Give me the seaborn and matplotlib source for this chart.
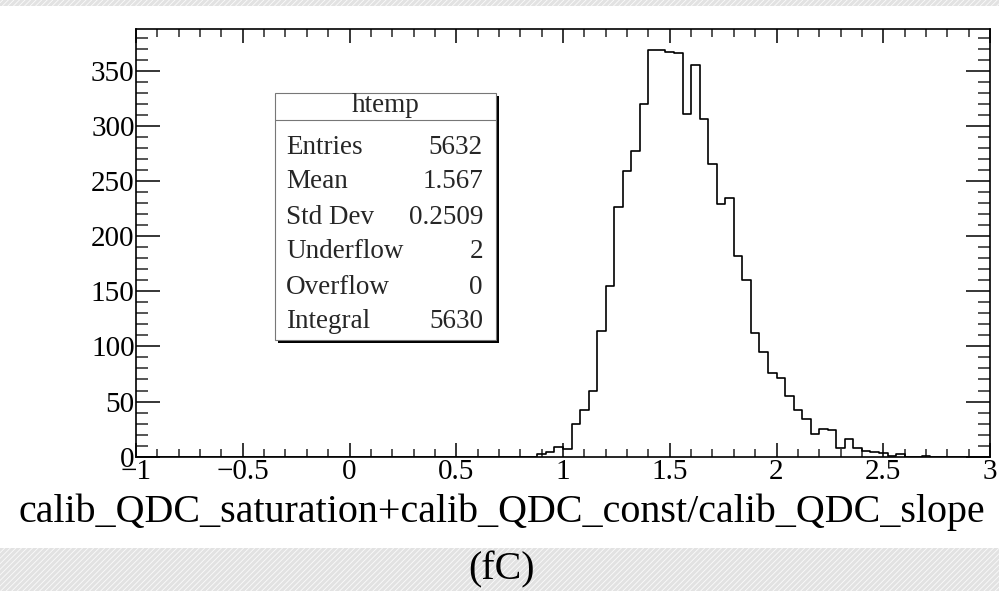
import numpy as np
import pandas as pd
import matplotlib
matplotlib.use("Agg")
import matplotlib.pyplot as plt
from matplotlib.patches import Rectangle
from matplotlib.lines import Line2D
import seaborn as sns

# ---- data (bin lower edges, counts) ----
bin_low = [0.88, 0.92, 0.96, 1.00, 1.04, 1.08, 1.12, 1.16, 1.20, 1.24,
           1.28, 1.32, 1.36, 1.40, 1.44, 1.48, 1.52, 1.56, 1.60, 1.64,
           1.68, 1.72, 1.76, 1.80, 1.84, 1.88, 1.92, 1.96, 2.00, 2.04,
           2.08, 2.12, 2.16, 2.20, 2.24, 2.28, 2.32, 2.36, 2.40, 2.44,
           2.48, 2.52, 2.56, 2.60, 2.64, 2.68]
counts = [2, 4, 9, 7, 30, 42, 60, 114, 155, 226,
          259, 277, 320, 369, 369, 367, 366, 311, 355, 306,
          265, 229, 235, 182, 160, 112, 95, 76, 71, 55,
          42, 34, 21, 25, 24, 8, 16, 8, 5, 4,
          3, 1, 2, 0, 0, 1]
stat_labels = ["Entries", "Mean", "Std Dev", "Underflow", "Overflow", "Integral"]
stat_values = ["5632", "1.567", "0.2509", "2", "0", "5630"]
hist_name = "htemp"
x_label = "calib_QDC_saturation+calib_QDC_const/calib_QDC_slope\n(fC)"
x_ticks = [-1, -0.5, 0, 0.5, 1, 1.5, 2, 2.5, 3]
x_ticklabels = ["\u22121", "\u22120.5", "0", "0.5", "1", "1.5", "2", "2.5", "3"]
y_ticks = [0, 50, 100, 150, 200, 250, 300, 350]

bin_width = 0.04
df = pd.DataFrame({"x": np.array(bin_low) + bin_width / 2, "n": counts})

sns.set_theme(style="white")
plt.rcParams["font.family"] = ["Liberation Serif", "DejaVu Serif"]
plt.rcParams["hatch.linewidth"] = 2.2
plt.rcParams["hatch.color"] = "#e2e2e2"

W, H = 999, 591
fig = plt.figure(figsize=(W / 100, H / 100), dpi=100)

# background stripes (screenshot edges)
fig.patches.append(Rectangle((0, 0), 1, (H - 548) / H, transform=fig.transFigure,
                             facecolor="#fafafa", edgecolor="#e2e2e2", hatch="//////",
                             linewidth=0, zorder=-10))
fig.patches.append(Rectangle((0, (H - 6) / H), 1, 6 / H, transform=fig.transFigure,
                             facecolor="#fafafa", edgecolor="#e2e2e2", hatch="//////",
                             linewidth=0, zorder=-10))

L, R, T, B = 136, 990, 29.3, 456.7
ax = fig.add_axes([L / W, (H - B) / H, (R - L) / W, (B - T) / H])

sns.histplot(data=df, x="x", weights="n", binwidth=bin_width, binrange=(-1, 3),
             element="step", fill=False, color="black", linewidth=1.2, ax=ax)

ax.set_xlim(-1, 3)
ax.set_ylim(0, 387.5)
ax.set_ylabel("")
ax.set_xticks(x_ticks)
ax.set_xticklabels(x_ticklabels)
ax.set_yticks(y_ticks)
ax.set_xticks(np.arange(-1, 3.001, 0.1), minor=True)
ax.set_yticks(np.arange(0, 381, 10), minor=True)
for s in ax.spines.values():
    s.set_color("black")
    s.set_linewidth(1.2)
ax.tick_params(axis="x", which="major", direction="in", length=10, width=1.1,
               top=True, bottom=True, labelsize=21, pad=2, colors="black")
ax.tick_params(axis="x", which="minor", direction="in", length=5.5, width=1.1,
               top=True, bottom=True)
ax.tick_params(axis="y", which="major", direction="in", length=17, width=1.1,
               left=True, right=True, labelsize=21, pad=1, colors="black")
ax.tick_params(axis="y", which="minor", direction="in", length=8.5, width=1.1,
               left=True, right=True)

ax.set_xlabel(x_label, fontsize=28.8, linespacing=1.75, color="black")
ax.xaxis.set_label_coords((502 - L) / (R - L), -0.085)

# stats box
bx0, bx1, by0, by1 = 275, 496, 93, 340
hdr = 120
sh = 3
fig.patches.append(Rectangle(((bx0 + sh) / W, (H - by1 - sh) / H),
                             (bx1 - bx0) / W, (by1 - by0) / H, transform=fig.transFigure,
                             facecolor="black", edgecolor="black", linewidth=0, zorder=5))
fig.patches.append(Rectangle((bx0 / W, (H - by1) / H), (bx1 - bx0) / W, (by1 - by0) / H,
                             transform=fig.transFigure, facecolor="white",
                             edgecolor="#777777", linewidth=0.8, zorder=6))
fig.lines.append(Line2D([bx0 / W, bx1 / W], [(H - hdr) / H] * 2, transform=fig.transFigure,
                        color="#777777", linewidth=0.8, zorder=7))
fig.text((bx0 + bx1) / 2 / W, (H - 106) / H, hist_name, ha="center", va="center",
         fontsize=19.5, zorder=8)
row_y = [147, 182, 217, 252, 287, 322]
for lab, val, yy in zip(stat_labels, stat_values, row_y):
    fig.text(286 / W, (H - yy) / H, lab, ha="left", va="center", fontsize=19.5, zorder=8)
    fig.text(483 / W, (H - yy) / H, val, ha="right", va="center", fontsize=19.5, zorder=8)

fig.savefig("out.png", dpi=100)
